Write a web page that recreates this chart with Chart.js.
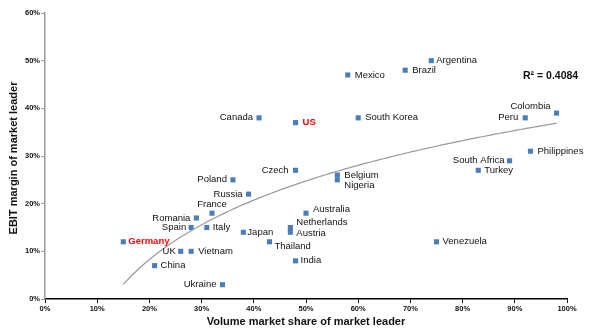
<!DOCTYPE html>
<html>
<head>
<meta charset="utf-8">
<script src="https://cdn.jsdelivr.net/npm/chart.js@4.4.0/dist/chart.umd.min.js"></script>
<style>
  html, body { margin: 0; padding: 0; background: #fff; }
  #wrap { width: 600px; height: 334px; }
</style>
</head>
<body>
<div id="wrap"><canvas id="myChart" width="600" height="334"></canvas></div>
<script>
// market leader per country: volume share (%) vs EBIT margin (%)
var countries = ['Germany', 'China', 'UK', 'Vietnam', 'Spain', 'Romania', 'France', 'Italy',
  'Poland', 'Russia', 'Japan', 'Thailand', 'Ukraine', 'India', 'Netherlands', 'Austria',
  'Australia', 'Czech', 'Belgium', 'Nigeria', 'Canada', 'US', 'Mexico', 'South Korea',
  'Brazil', 'Argentina', 'Colombia', 'Peru', 'Philippines', 'South Africa', 'Turkey', 'Venezuela'];
var marketShare = [15, 21, 26, 28, 28, 29, 32, 31,
  36, 39, 38, 43, 34, 48, 47, 47,
  50, 48, 56, 56, 41, 48, 58, 60,
  69, 74, 98, 92, 93, 89, 83, 75];
var ebitMargin = [12, 7, 10, 10, 15, 17, 18, 15,
  25, 22, 14, 12, 3, 8, 15, 14,
  18, 27, 26, 25, 38, 37, 47, 38,
  48, 50, 39, 38, 31, 29, 27, 12];
var highlighted = ['Germany', 'US'];

var xTicks = [0, 10, 20, 30, 40, 50, 60, 70, 80, 90, 100];
var yTicks = [0, 10, 20, 30, 40, 50, 60];
var rSquaredText = 'R² = 0.4084';

// where each label sits relative to its marker: [align, dx, dy]
var labelPos = {
  'Germany': ['left', 5, 0], 'China': ['left', 6, 0], 'UK': ['right', -5, 0],
  'Vietnam': ['left', 7, 0], 'Spain': ['right', -5, 0], 'Romania': ['right', -6, 0],
  'France': ['center', 0, -9], 'Italy': ['left', 6, 0], 'Poland': ['right', -6, 0],
  'Russia': ['right', -6, 0], 'Japan': ['left', 4, 0], 'Thailand': ['left', 5, 5],
  'Ukraine': ['right', -6, 0], 'India': ['left', 5, 0], 'Netherlands': ['left', 6, -5],
  'Austria': ['left', 6, 1], 'Australia': ['left', 7, -4], 'Czech': ['right', -7, 0],
  'Belgium': ['left', 7, 0], 'Nigeria': ['left', 7, 6], 'Canada': ['right', -6, 0],
  'US': ['left', 7, 0], 'Mexico': ['left', 7, 0], 'South Korea': ['left', 7, 0],
  'Brazil': ['left', 7, 0], 'Argentina': ['left', 5, 0], 'Colombia': ['right', -6, -7],
  'Peru': ['right', -7, 0], 'Philippines': ['left', 7, 0], 'South Africa': ['right', -5, 0],
  'Turkey': ['left', 6, 0], 'Venezuela': ['left', 6, 0]
};

var FONT = "'Liberation Sans', Arial, sans-serif";

var points = countries.map(function (c, i) {
  return { x: marketShare[i], y: ebitMargin[i], name: c };
});

// logarithmic least-squares trend: y = a + b * ln(x)
function logFit(xs, ys) {
  var n = xs.length, sl = 0, sy = 0, sll = 0, sly = 0;
  for (var i = 0; i < n; i++) {
    var l = Math.log(xs[i]);
    sl += l; sy += ys[i]; sll += l * l; sly += l * ys[i];
  }
  var b = (n * sly - sl * sy) / (n * sll - sl * sl);
  var a = (sy - b * sl) / n;
  return { a: a, b: b };
}
var fit = logFit(marketShare, ebitMargin);
var xMin = Math.min.apply(null, marketShare);
var xMax = Math.max.apply(null, marketShare);
var trend = [];
for (var k = 0; k <= 60; k++) {
  var tx = xMin + (xMax - xMin) * k / 60;
  trend.push({ x: tx, y: fit.a + fit.b * Math.log(tx) });
}

var labelPlugin = {
  id: 'labels',
  afterDatasetsDraw: function (chart) {
    var ctx = chart.ctx;
    var meta = chart.getDatasetMeta(1);
    ctx.save();
    ctx.textBaseline = 'middle';
    meta.data.forEach(function (el, i) {
      var name = countries[i];
      var p = labelPos[name];
      var hot = highlighted.indexOf(name) >= 0;
      ctx.font = (hot ? 'bold ' : '') + '9.5px ' + FONT;
      ctx.fillStyle = hot ? '#ff0000' : '#111';
      ctx.textAlign = p[0];
      ctx.fillText(name, el.x + p[1], el.y + p[2]);
    });

    // R squared
    ctx.font = 'bold 10.5px ' + FONT;
    ctx.fillStyle = '#111';
    ctx.textAlign = 'left';
    ctx.fillText(rSquaredText, 523, 76);

    // axis titles
    var area = chart.chartArea;
    ctx.font = 'bold 11px ' + FONT;
    ctx.textAlign = 'center';
    ctx.fillText('Volume market share of market leader', (area.left + area.right) / 2, 322);
    ctx.translate(14, (area.top + area.bottom) / 2 + 2);
    ctx.rotate(-Math.PI / 2);
    ctx.fillText('EBIT margin of market leader', 0, 0);
    ctx.restore();
  }
};

var ctx = document.getElementById('myChart');
var myChart = new Chart(ctx, {
  type: 'scatter',
  data: {
    datasets: [
      {
        type: 'line',
        data: trend,
        borderColor: '#9a9a9a',
        borderWidth: 1.2,
        pointRadius: 0,
        tension: 0.3,
        fill: false
      },
      {
        data: points,
        pointStyle: 'rect',
        pointRadius: 3.6,
        pointHoverRadius: 3.6,
        borderWidth: 0,
        backgroundColor: '#4a7ebb'
      }
    ]
  },
  options: {
    responsive: false,
    animation: false,
    events: [],
    layout: { padding: { top: 13, right: 33, left: 0, bottom: 0 } },
    plugins: {
      legend: { display: false },
      tooltip: { enabled: false }
    },
    scales: {
      x: {
        type: 'linear',
        min: 0,
        max: 100,
        afterFit: function (s) { s.height = 35; },
        afterBuildTicks: function (s) { s.ticks = xTicks.map(function (v) { return { value: v }; }); },
        border: { color: '#000', width: 1.5 },
        grid: { drawOnChartArea: false, drawTicks: true, tickLength: 4, tickColor: '#000' },
        ticks: {
          padding: 1,
          color: '#111',
          font: { family: FONT, size: 7.5, weight: 'bold' },
          maxRotation: 0,
          callback: function (v) { return v + '%'; }
        }
      },
      y: {
        type: 'linear',
        min: 0,
        max: 60,
        afterFit: function (s) { s.width = 45; },
        afterBuildTicks: function (s) { s.ticks = yTicks.map(function (v) { return { value: v }; }); },
        border: { color: '#999', width: 1.5 },
        grid: { drawOnChartArea: false, drawTicks: true, tickLength: 4, tickColor: '#999' },
        ticks: {
          padding: 1,
          color: '#111',
          font: { family: FONT, size: 7.5, weight: 'bold' },
          callback: function (v) { return v + '%'; }
        }
      }
    }
  },
  plugins: [labelPlugin]
});
</script>
</body>
</html>
